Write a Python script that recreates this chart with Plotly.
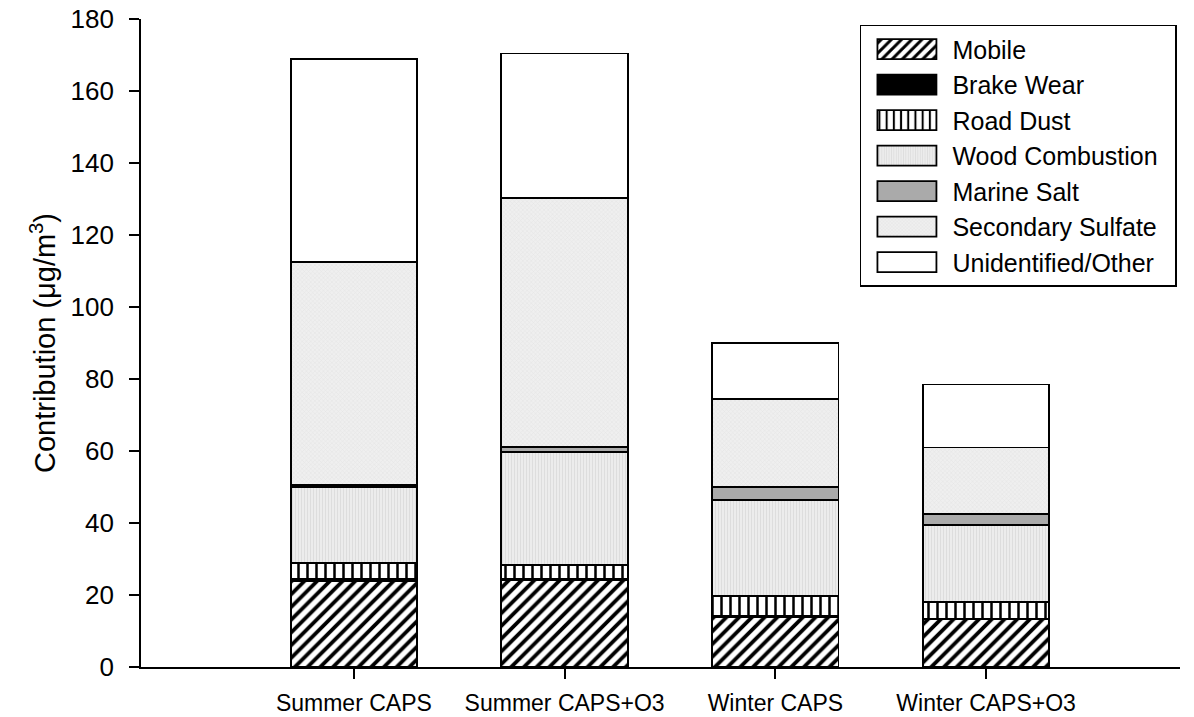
import plotly.graph_objects as go

categories = ["Summer CAPS", "Summer CAPS+O3", "Winter CAPS", "Winter CAPS+O3"]
mobile = [24.0, 24.2, 14.0, 13.2]
brake_wear = [0.5, 0.3, 0.2, 0.2]
road_dust = [4.5, 3.8, 5.5, 4.7]
wood_combustion = [21.1, 31.5, 26.7, 21.3]
marine_salt = [0.5, 1.4, 3.6, 3.1]
secondary_sulfate = [61.9, 69.1, 24.4, 18.5]
unidentified = [56.4, 40.1, 15.6, 17.5]
y_ticks = [0, 20, 40, 60, 80, 100, 120, 140, 160, 180]

xpos = list(range(len(categories)))
FONT = "Liberation Sans, Arial, sans-serif"

series = [
    ("Mobile", mobile, dict(color="white", pattern=dict(shape="/", fgcolor="black", bgcolor="white", fgopacity=1, size=9, solidity=0.42))),
    ("Brake Wear", brake_wear, dict(color="black")),
    ("Road Dust", road_dust, dict(color="white", pattern=dict(shape="|", fgcolor="black", bgcolor="white", fgopacity=1, size=9, solidity=0.28))),
    ("Wood Combustion", wood_combustion, dict(color="#e8e8e8", pattern=dict(shape="|", fgcolor="#cccccc", bgcolor="#eeeeee", size=3, solidity=0.4))),
    ("Marine Salt", marine_salt, dict(color="#aaaaaa")),
    ("Secondary Sulfate", secondary_sulfate, dict(color="#ececec", pattern=dict(shape="x", fgcolor="#d4d4d4", bgcolor="#efefef", size=3, solidity=0.3))),
    ("Unidentified/Other", unidentified, dict(color="white")),
]

fig = go.Figure()
for name, vals, m in series:
    m = dict(m)
    m["line"] = dict(color="black", width=1.8)
    fig.add_trace(go.Bar(x=xpos, y=vals, name=name, marker=m, width=0.6))

fig.update_layout(
    barmode="stack",
    width=1194, height=717,
    margin=dict(l=141, r=14, t=19, b=50),
    paper_bgcolor="white", plot_bgcolor="white",
    font=dict(family=FONT, color="black"),
    showlegend=True,
    legend=dict(
        x=0.9855, y=0.991, xanchor="right", yanchor="top",
        bordercolor="black", borderwidth=1.5, bgcolor="white",
        font=dict(size=25, family=FONT), traceorder="normal",
        itemwidth=81, tracegroupgap=0,
    ),
    xaxis=dict(
        range=[-1.01, 3.92], tickvals=xpos, ticktext=categories,
        showline=True, linecolor="black", linewidth=1.8,
        ticks="outside", ticklen=10, tickwidth=1.5, tickcolor="black",
        tickfont=dict(size=23, family=FONT), showgrid=False, zeroline=False,
        ticklabelstandoff=4, automargin=False,
    ),
    yaxis=dict(
        range=[0, 180], tickvals=y_ticks,
        showline=True, linecolor="black", linewidth=1.8,
        ticks="outside", ticklen=10, tickwidth=1.5, tickcolor="black",
        tickfont=dict(size=26, family=FONT), showgrid=False, zeroline=False,
        ticklabelstandoff=10, automargin=False,
        title=dict(text="Contribution (μg/m<sup>3</sup>)", font=dict(size=29, family=FONT), standoff=6),
    ),
)

post = """
document.body.style.margin = '0';
var gd = document.getElementById('{plot_id}');
function fixLegend() {
  gd.querySelectorAll('.legend .traces').forEach(function (t) {
    var txt = t.querySelector('.legendtext');
    if (!txt) return;
    var tx = parseFloat(txt.getAttribute('x')) || 0;
    t.querySelectorAll('.legendpoints path').forEach(function (p) {
      var x0 = tx - 75, x1 = tx - 16;
      p.setAttribute('d', 'M' + x0 + ',-10H' + x1 + 'V10H' + x0 + 'Z');
      p.setAttribute('transform', 'translate(0,0)');
      p.style.strokeWidth = '1.8px';
      p.style.stroke = 'black';
    });
  });
  var bg = gd.querySelector('.legend rect.bg');
  if (bg) {
    var w = parseFloat(bg.getAttribute('width'));
    if (!bg.dataset.w0 || Math.abs(w - parseFloat(bg.dataset.w0) - 12) > 0.5) {
      bg.dataset.w0 = w;
      bg.setAttribute('width', w + 12);
    }
  }
}
fixLegend();
gd.on('plotly_afterplot', fixLegend);
"""

fig.write_html("out.html", post_script=post, config={"displayModeBar": False})
